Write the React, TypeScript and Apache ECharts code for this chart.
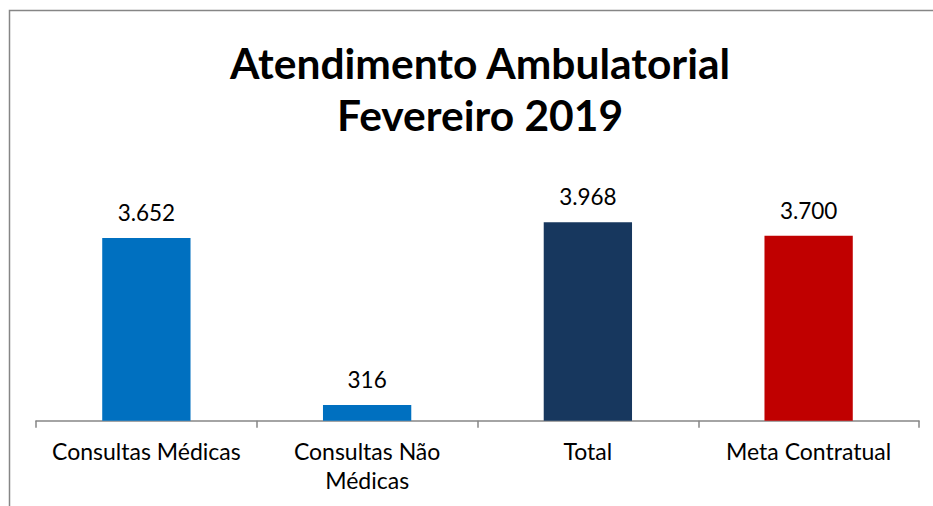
import React, { useEffect, useRef } from "react";
import * as echarts from "echarts";

const titleLines = ["Atendimento Ambulatorial", "Fevereiro 2019"];
const categories = ["Consultas Médicas", "Consultas Não\nMédicas", "Total", "Meta Contratual"];
const values = [3652, 316, 3968, 3700];
const barColors = ["#0070C0", "#0070C0", "#17375E", "#C00000"];

const fmt = (v: number) => v.toLocaleString("de-DE");

export default function App() {
  const ref = useRef<HTMLDivElement>(null);
  useEffect(() => {
    document.body.style.margin = "0";
    const chart = echarts.init(ref.current!, null, { renderer: "svg" });
    chart.setOption({
      animation: false,
      backgroundColor: "#ffffff",
      textStyle: { fontFamily: "Lato" },
      graphic: [
        {
          type: "rect",
          shape: { x: 9.5, y: 10.5, width: 980, height: 540 },
          style: { fill: "none", stroke: "#868686", lineWidth: 1.5 },
          silent: true,
        },
        {
          type: "text",
          x: 480,
          y: 36,
          style: {
            text: titleLines.join("\n"),
            fontFamily: "Lato",
            fontWeight: "bold",
            fontSize: 42.5,
            lineHeight: 52,
            fill: "#000",
            align: "center",
            verticalAlign: "top",
          },
        },
      ],
      grid: { left: 36, right: 14, top: 195.7, bottom: 85.3, containLabel: false },
      xAxis: {
        type: "category",
        data: categories,
        boundaryGap: true,
        axisLine: { lineStyle: { color: "#868686", width: 1.5 } },
        axisTick: { show: true, length: 7, lineStyle: { color: "#868686", width: 1.5 } },
        axisLabel: {
          color: "#000",
          fontSize: 23,
          fontFamily: "Lato",
          lineHeight: 29,
          margin: 16,
          interval: 0,
        },
      },
      yAxis: {
        type: "value",
        min: 0,
        max: 4500,
        show: false,
        splitLine: { show: false },
      },
      series: [
        {
          type: "bar",
          barWidth: "40%",
          data: values.map((v, i) => ({ value: v, itemStyle: { color: barColors[i] } })),
          label: {
            show: true,
            position: "top",
            distance: 14,
            color: "#000",
            fontSize: 22.5,
            fontFamily: "Lato",
            formatter: (p: any) => fmt(p.value),
          },
        },
      ],
    });
    return () => chart.dispose();
  }, []);
  return <div ref={ref} style={{ width: 933, height: 506 }} />;
}
